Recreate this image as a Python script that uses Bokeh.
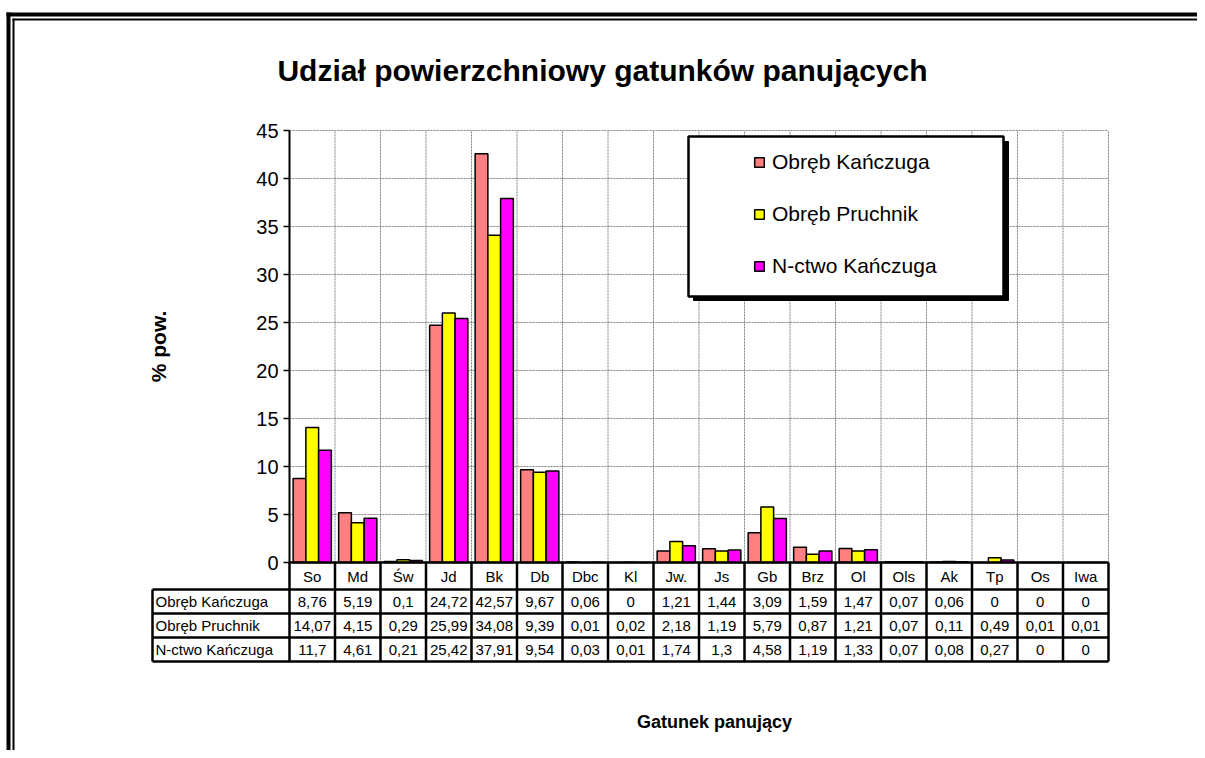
import math
from bokeh.plotting import figure
from bokeh.models import (ColumnDataSource, Range1d, BoxAnnotation, Legend, LegendItem)
from bokeh.core.properties import value
from bokeh.transform import dodge
from bokeh.embed import file_html
from bokeh.resources import INLINE

# ---------------- data ----------------
categories = ["So", "Md", "Św", "Jd", "Bk", "Db", "Dbc", "Kl", "Jw.", "Js", "Gb", "Brz",
              "Ol", "Ols", "Ak", "Tp", "Os", "Iwa"]
series_names = ["Obręb Kańczuga", "Obręb Pruchnik", "N-ctwo Kańczuga"]
obreb_kanczuga = [8.76, 5.19, 0.1, 24.72, 42.57, 9.67, 0.06, 0, 1.21, 1.44, 3.09, 1.59,
                  1.47, 0.07, 0.06, 0, 0, 0]
obreb_pruchnik = [14.07, 4.15, 0.29, 25.99, 34.08, 9.39, 0.01, 0.02, 2.18, 1.19, 5.79, 0.87,
                  1.21, 0.07, 0.11, 0.49, 0.01, 0.01]
nctwo_kanczuga = [11.7, 4.61, 0.21, 25.42, 37.91, 9.54, 0.03, 0.01, 1.74, 1.3, 4.58, 1.19,
                  1.33, 0.07, 0.08, 0.27, 0, 0]
series_colors = ["#FF8080", "#FFFF00", "#FF00FF"]
y_ticks = [0, 5, 10, 15, 20, 25, 30, 35, 40, 45]
y_max = 45
title_text = "Udział powierzchniowy gatunków panujących"
y_title = "% pow."
x_title = "Gatunek panujący"

FONT = "Liberation Sans"
N = len(categories)
pos = [i + 0.5 for i in range(N)]          # category slot centres

# ---------------- layout (page pixel geometry) ----------------
W, H = 1197, 750
FR_L, FR_R, FR_T, FR_B = 289, 1108, 130, 562     # chart plot area in pixels
CW = (FR_R - FR_L) / N                           # pixels per category
PY = (FR_B - FR_T) / y_max                       # pixels per % unit

p = figure(width=W, height=H, output_backend="svg", toolbar_location=None,
           x_range=Range1d(-FR_L / CW, (W - FR_L) / CW),
           y_range=Range1d(-(H - FR_B) / PY, y_max + FR_T / PY),
           x_axis_location=None, y_axis_location=None,
           min_border=0, min_border_left=0, min_border_right=0,
           min_border_top=0, min_border_bottom=0)
p.outline_line_color = None
p.background_fill_color = "white"
p.border_fill_color = "white"
p.xgrid.visible = False
p.ygrid.visible = False

# helper ranges in page-pixel coordinates (y downwards)
p.extra_x_ranges = {"ix": Range1d(0, W)}
p.extra_y_ranges = {"iy": Range1d(H, 0)}

GRID = dict(line_color="#808080", line_dash="2 1", line_width=1)

# ---------------- gridlines ----------------
p.segment(x0=[0] * len(y_ticks), x1=[N] * len(y_ticks), y0=y_ticks, y1=y_ticks, **GRID)
p.segment(x0=list(range(1, N + 1)), x1=list(range(1, N + 1)),
          y0=[0] * N, y1=[y_max] * N, **GRID)

# ---------------- bars ----------------
src = ColumnDataSource(dict(pos=pos, cat=categories, kan=obreb_kanczuga, pru=obreb_pruchnik,
                            nct=nctwo_kanczuga))
bar_w = 0.28
renderers = []
for key, off, col in zip(["kan", "pru", "nct"], [-bar_w, 0, bar_w], series_colors):
    r = p.vbar(x=dodge("pos", off), top=key, bottom=0, width=bar_w, source=src,
               fill_color=col, line_color="black", line_width=1.5)
    renderers.append(r)

# ---------------- value axis ----------------
tick_len = 6 / CW
p.segment(x0=[0], x1=[0], y0=[0], y1=[y_max], line_color="black", line_width=2)
p.segment(x0=[-tick_len] * len(y_ticks), x1=[0] * len(y_ticks), y0=y_ticks, y1=y_ticks,
          line_color="black", line_width=1.5)
p.text(x=[-(6 + 5) / CW] * len(y_ticks), y=y_ticks, text=[str(t) for t in y_ticks],
       text_align="right", text_baseline="middle", text_font=value(FONT),
       text_font_size="20px", text_color="black")
p.text(x=[158], y=[(FR_T + FR_B) / 2], text=[y_title], angle=math.pi / 2,
       x_range_name="ix", y_range_name="iy", text_align="center", text_baseline="middle",
       text_font=value(FONT), text_font_size="21px", text_font_style="bold", text_color="black")

# ---------------- data table below the chart ----------------
row_edges = [FR_B, 589, 613, 637, 661]
TBL_L = 152

def fmt(v):
    return f"{v:g}".replace(".", ",")

TL = dict(line_color="black", line_width=2.5)
p.segment(x0=[FR_L] + [TBL_L] * 4, x1=[FR_R] * 5, y0=row_edges, y1=row_edges,
          x_range_name="ix", y_range_name="iy", **TL)
p.segment(x0=list(range(N + 1)), x1=list(range(N + 1)), y0=[row_edges[0]] * (N + 1),
          y1=[row_edges[-1]] * (N + 1), y_range_name="iy", **TL)
p.segment(x0=[TBL_L], x1=[TBL_L], y0=[row_edges[1]], y1=[row_edges[-1]],
          x_range_name="ix", y_range_name="iy", **TL)

TXT = dict(text_font=value(FONT), text_font_size="15px", text_color="black",
           text_baseline="middle")
p.text(x=pos, y=[(row_edges[0] + row_edges[1]) / 2] * N, text=categories,
       y_range_name="iy", text_align="center", **TXT)
tx, ty, tt = [], [], []
for i, vals in enumerate([obreb_kanczuga, obreb_pruchnik, nctwo_kanczuga]):
    yc = (row_edges[i + 1] + row_edges[i + 2]) / 2
    for xp, v in zip(pos, vals):
        tx.append(xp)
        ty.append(yc)
        tt.append(fmt(v))
p.text(x=tx, y=ty, text=tt, y_range_name="iy", text_align="center", **TXT)
rl_y = [(row_edges[i + 1] + row_edges[i + 2]) / 2 for i in range(3)]
p.text(x=[TBL_L + 3] * 3, y=rl_y, text=series_names, x_range_name="ix", y_range_name="iy",
       text_align="left", **TXT)

p.text(x=[714], y=[721], text=[x_title], x_range_name="ix", y_range_name="iy",
       text_align="center", text_baseline="middle", text_font=value(FONT),
       text_font_size="18px", text_font_style="bold", text_color="black")

# ---------------- chart title ----------------
p.text(x=[602], y=[70], text=[title_text], x_range_name="ix", y_range_name="iy",
       text_align="center", text_baseline="middle", text_font=value(FONT),
       text_font_size="30px", text_font_style="bold", text_color="black")

# ---------------- double page frame (top and left edges) as filled strips ----------------
p.quad(left=[6, 12, 6, 12], right=[10, 14, W, W], top=[12, 18, 12, 18],
       bottom=[H, H, 16, 20], x_range_name="ix", y_range_name="iy",
       fill_color="black", line_color=None)

# ---------------- legend with shadowed box ----------------
p.add_layout(BoxAnnotation(left=693, right=1008, top=141, bottom=300, x_range_name="ix",
                           y_range_name="iy", fill_color="black", fill_alpha=1,
                           line_color="black", line_alpha=1))
p.add_layout(BoxAnnotation(left=688, right=1003, top=136, bottom=296, x_range_name="ix",
                           y_range_name="iy", fill_color="white", fill_alpha=1,
                           line_color="black", line_width=2.5, line_alpha=1))
legend = Legend(items=[LegendItem(label=n, renderers=[r]) for n, r in zip(series_names, renderers)],
                location=(753, H - 278), orientation="vertical", border_line_alpha=0,
                background_fill_alpha=0, padding=0, margin=0, spacing=28,
                glyph_width=12, glyph_height=12, label_height=24, label_standoff=7,
                label_text_font=FONT, label_text_font_size="21px", label_text_color="black")
p.add_layout(legend, "center")

open("out.html", "w").write(file_html(p, INLINE))
